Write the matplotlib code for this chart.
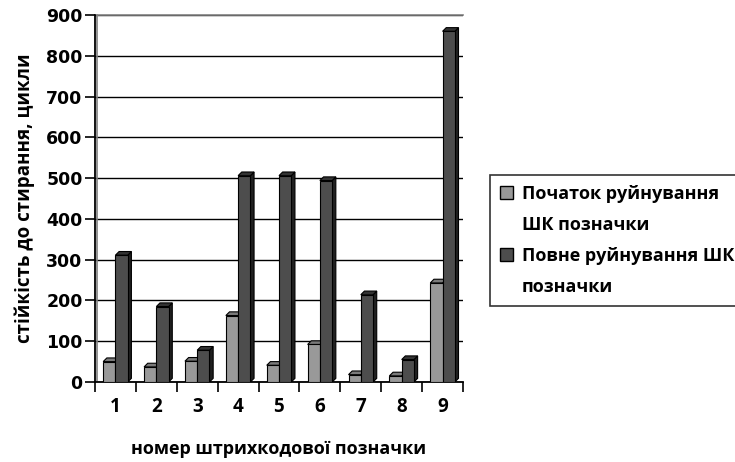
import numpy as np
import matplotlib.pyplot as plt
from matplotlib.patches import Polygon, Patch

# Barcode label numbers and abrasion resistance (cycles)
labels = ["1", "2", "3", "4", "5", "6", "7", "8", "9"]
start_damage = [50, 37, 51, 163, 41, 92, 18, 15, 243]
full_damage = [311, 185, 78, 506, 506, 494, 214, 55, 860]

# legend text, wrapped as in the original
series_lines = [["Початок руйнування", "ШК позначки"], ["Повне руйнування ШК", "позначки"]]
face_colors = ["#999999", "#4d4d4d"]
side_colors = ["#5a5a5a", "#202020"]
top_colors = ["#7a7a7a", "#333333"]

text_font = ["Open Sans", "DejaVu Sans"]

fig = plt.figure(figsize=(7.35, 4.62), dpi=100)
ax = fig.add_axes([95 / 735, 80 / 462, 368 / 735, 367 / 462])

x = np.arange(len(labels))
width = 0.3
dx = 0.09  # depth of the fake 3d bars, x units
dy = 9.0   # depth of the fake 3d bars, y units

handles = []
for k, (vals, off) in enumerate([(start_damage, -0.15), (full_damage, 0.15)]):
    for xi, v in zip(x, vals):
        left = xi + off - width / 2
        right = xi + off + width / 2
        side = Polygon([[right, 0], [right, v], [right + dx, v + dy], [right + dx, dy]],
                       closed=True, facecolor=side_colors[k], edgecolor="black", lw=0.8, zorder=3)
        top = Polygon([[left, v], [right, v], [right + dx, v + dy], [left + dx, v + dy]],
                      closed=True, facecolor=top_colors[k], edgecolor="black", lw=0.8, zorder=3)
        ax.add_patch(side)
        ax.add_patch(top)
    ax.bar(x + off, vals, width, color=face_colors[k], edgecolor="black", lw=0.8, zorder=4)
    handles.append(Patch(facecolor=face_colors[k], edgecolor="black", lw=1.0))

ax.set_xlim(-0.5, 8.5)
ax.set_ylim(0, 900)
ax.set_yticks(np.arange(0, 901, 100))
ax.yaxis.grid(True, color="black", lw=1.0)
ax.set_axisbelow(True)

# category labels between tick marks, Excel style
ax.set_xticks(x)
ax.set_xticklabels(labels, fontsize=13.5, fontweight="bold", family=text_font)
ax.set_xticks(np.arange(-0.5, 8.6, 1), minor=True)
ax.tick_params(axis="x", which="major", length=0, pad=11)
ax.tick_params(axis="x", which="minor", length=7, width=1.2, direction="out")
ax.tick_params(axis="y", length=7, width=1.2, labelsize=12.5, pad=2)
for t in ax.get_yticklabels():
    t.set_fontweight("bold")
    t.set_family("DejaVu Sans")

for s in ["top", "right"]:
    ax.spines[s].set_visible(False)
ax.spines["left"].set_linewidth(1.3)
ax.spines["bottom"].set_linewidth(1.3)
# back wall edges
ax.plot([-0.5 + dx * 0.5, -0.5 + dx * 0.5], [dy * 0.4, 900], color="gray", lw=1.2, zorder=1, clip_on=False)
ax.plot([-0.5 + dx * 0.5, 8.5], [900, 900], color="gray", lw=1.2, zorder=1, clip_on=False)

ax.set_xlabel("номер штрихкодової позначки", fontsize=13, fontweight="bold",
              family=text_font, labelpad=16)
ax.set_ylabel("стійкість до стирання, цикли", fontsize=13.5, fontweight="bold",
              family=text_font, labelpad=8)

# one legend row per text line, the marker only on the first line of each series
leg_handles = []
leg_labels = []
for h, lines in zip(handles, series_lines):
    leg_handles += [h, Patch(facecolor="none", edgecolor="none")]
    leg_labels += lines

leg = ax.legend(leg_handles, leg_labels, loc="upper left", bbox_to_anchor=(490 / 735, 287 / 462),
                bbox_transform=fig.transFigure, borderaxespad=0, frameon=True, fancybox=False,
                edgecolor="black", handlelength=0.7, handleheight=0.7, handletextpad=0.5,
                labelspacing=0.72, borderpad=0.55,
                prop={"family": text_font, "weight": "bold", "size": 13})
leg.get_frame().set_linewidth(1.2)

fig.savefig("out.png", dpi=100)
